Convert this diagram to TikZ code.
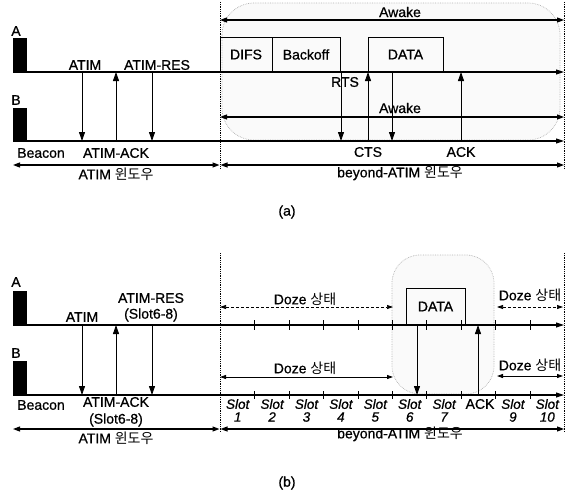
\documentclass[tikz,border=0pt]{standalone}
\usepackage{fontspec}
\setmainfont{Liberation Sans}[FakeBold=0.7]
\newfontfamily\kr{Noto Sans CJK KR}
\usetikzlibrary{arrows.meta}
\begin{document}
\begin{tikzpicture}[x=1pt,y=-1pt,
  font=\fontsize{14}{15}\selectfont,
  txt/.style={inner sep=0pt},
  tl/.style={line width=1.1pt,-{Triangle[length=8pt,width=5pt]}},
  msg/.style={line width=0.9pt,-{Triangle[length=9pt,width=6pt]}},
  spanarr/.style={line width=1.1pt,{Triangle[length=7pt,width=5pt]}-{Triangle[length=7pt,width=5pt]}},
  dozeA/.style={line width=0.7pt,densely dashed,{Triangle[length=6pt,width=4pt]}-{Triangle[length=6pt,width=4pt]}},
  dozeB/.style={line width=0.9pt,{Triangle[length=6pt,width=4pt]}-{Triangle[length=6pt,width=4pt]}},
  sep/.style={line width=0.8pt,densely dotted},
  blob/.style={draw=gray!60,line width=0.7pt,densely dotted,fill=gray!4},
  bar/.style={fill=black,minimum width=14pt,minimum height=34pt,inner sep=0pt},
  frame/.style={draw,line width=0.9pt,inner sep=0pt,minimum height=35pt},
  slot/.style={inner sep=0pt,font=\fontsize{13.5}{15}\selectfont\itshape},
  tick/.style={line width=0.9pt}]
\useasboundingbox (0,0) rectangle (575,495);

% ================= (a) =================
\draw[blob,rounded corners=32pt] (222,3) rectangle (560,140);
\node[bar] (barA1) at (20,55) {};
\node[bar] (barB1) at (20,124.5) {};
\node[txt] (la1) at (16,31) {A};
\node[txt] (lb1) at (16,100) {B};
\coordinate (A1s) at (13,72);  \coordinate (A1e) at (564,72);
\coordinate (B1s) at (13,141); \coordinate (B1e) at (564,141);
\coordinate (s1t) at (220,2); \coordinate (s1b) at (220,168);
\coordinate (r1t) at (564,2); \coordinate (r1b) at (564,168);
\draw[sep] (s1t) -- (s1b);
\draw[sep] (r1t) -- (r1b);

\node[frame,minimum width=52pt] (difs) at (246,54.5) {DIFS};
\node[frame,minimum width=68pt] (backoff) at (306,54.5) {Backoff};
\node[frame,minimum width=75pt] (data1) at (405.5,54.5) {DATA};

\draw[tl] (A1s) -- (A1e);
\draw[tl] (B1s) -- (B1e);

\coordinate (aw1l) at (220,20); \coordinate (aw1r) at (564,20);
\draw[spanarr] (aw1l) -- (aw1r);
\node[txt] (awake1) at (400,12) {Awake};
\coordinate (aw2l) at (220,117); \coordinate (aw2r) at (564,117);
\draw[spanarr] (aw2l) -- (aw2r);
\node[txt] (awake2) at (400,108) {Awake};

\coordinate (atA1) at (82,72);  \coordinate (atB1) at (82,141);
\coordinate (ackA1) at (116,72); \coordinate (ackB1) at (116,141);
\coordinate (resA1) at (152,72); \coordinate (resB1) at (152,141);
\draw[msg] (atA1) -- (atB1);
\draw[msg] (ackB1) -- (ackA1);
\draw[msg] (resA1) -- (resB1);
\node[txt] (atim1) at (85,65) {ATIM};
\node[txt] (atimres1) at (157,65) {ATIM-RES};
\node[txt] (beacon1) at (41,153) {Beacon};
\node[txt] (atimack1) at (116,153) {ATIM-ACK};

\coordinate (rtsA) at (341,72); \coordinate (rtsB) at (341,141);
\coordinate (ctsA) at (368,72); \coordinate (ctsB) at (368,141);
\coordinate (datA) at (392,72); \coordinate (datB) at (392,141);
\coordinate (ackA) at (461,72); \coordinate (ackB) at (461,141);
\draw[msg] (rtsA) -- (rtsB);
\draw[msg] (ctsB) -- (ctsA);
\draw[msg] (datA) -- (datB);
\draw[msg] (ackB) -- (ackA);
\node[txt] (rts) at (345,82) {RTS};
\node[txt] (cts) at (368,152) {CTS};
\node[txt] (ack1) at (461,152) {ACK};

\coordinate (w1a) at (13,165); \coordinate (w1b) at (219.5,165);
\coordinate (w1c) at (220.5,165); \coordinate (w1d) at (564,165);
\draw[spanarr] (w1a) -- (w1b);
\draw[spanarr] (w1c) -- (w1d);
\node[txt] (aw1) at (116,174) {ATIM {\kr 윈도우}};
\node[txt] (bw1) at (400,173) {beyond-ATIM {\kr 윈도우}};
\node[txt] (capa) at (287,212) {(a)};

% ================= (b) =================
\draw[blob,rounded corners=28pt] (392,255) rectangle (494,394);
\node[bar] (barA2) at (20,307.5) {};
\node[bar] (barB2) at (20,378) {};
\node[txt] (la2) at (16,282) {A};
\node[txt] (lb2) at (16,353) {B};
\coordinate (A2s) at (13,325);  \coordinate (A2e) at (564,325);
\coordinate (B2s) at (13,395); \coordinate (B2e) at (564,395);
\coordinate (s2t) at (220,253); \coordinate (s2b) at (220,432);
\coordinate (r2t) at (564,253); \coordinate (r2b) at (564,432);
\draw[sep] (s2t) -- (s2b);
\draw[sep] (r2t) -- (r2b);

\node[frame,minimum width=59pt,minimum height=37pt] (data2) at (435.5,306.5) {DATA};
\draw[tl] (A2s) -- (A2e);
\draw[tl] (B2s) -- (B2e);

\foreach \k in {1,...,9}{
  \pgfmathsetmacro{\xx}{220.5+34.4*\k}
  \draw[tick] (\xx,320) -- (\xx,330);
  \draw[tick] (\xx,391) -- (\xx,399);
}
\foreach \k/\n in {1/1,2/2,3/3,4/4,5/5,6/6,7/7,9/9,10/10}{
  \pgfmathsetmacro{\xx}{220.5+34.4*\k-17.2}
  \node[slot] (slot\k) at (\xx,404) {Slot};
  \node[slot] (num\k) at (\xx,417) {\n};
}
\node[txt] (ack2) at (480,404) {ACK};

\coordinate (dA1) at (220,307); \coordinate (dA2) at (393,307);
\coordinate (dA3) at (497,307); \coordinate (dA4) at (563,307);
\coordinate (dB1) at (220,377); \coordinate (dB2) at (393,377);
\coordinate (dB3) at (497,376); \coordinate (dB4) at (563,376);
\draw[dozeA] (dA1) -- (dA2);
\draw[dozeA] (dA3) -- (dA4);
\draw[dozeB] (dB1) -- (dB2);
\draw[dozeB] (dB3) -- (dB4);
\node[txt] (doze1) at (305,299) {Doze {\kr 상태}};
\node[txt] (doze2) at (530,295) {Doze {\kr 상태}};
\node[txt] (doze3) at (305,368) {Doze {\kr 상태}};
\node[txt] (doze4) at (530,365) {Doze {\kr 상태}};

\coordinate (atA2) at (82,325);  \coordinate (atB2) at (82,395);
\coordinate (ackA2) at (116,325); \coordinate (ackB2) at (116,395);
\coordinate (resA2) at (152,325); \coordinate (resB2) at (152,395);
\draw[msg] (atA2) -- (atB2);
\draw[msg] (ackB2) -- (ackA2);
\draw[msg] (resA2) -- (resB2);
\node[txt] (atim2) at (82,317) {ATIM};
\node[txt] (atimres2) at (151,298) {ATIM-RES};
\node[txt] (slres) at (151,315) {(Slot6-8)};
\node[txt] (beacon2) at (41,405) {Beacon};
\node[txt] (atimack2) at (116,402) {ATIM-ACK};
\node[txt] (slack) at (116,420) {(Slot6-8)};

\coordinate (d2A) at (417,325); \coordinate (d2B) at (417,395);
\coordinate (k2A) at (478,325); \coordinate (k2B) at (478,395);
\draw[msg] (d2A) -- (d2B);
\draw[msg] (k2B) -- (k2A);

\coordinate (w2a) at (13,429); \coordinate (w2b) at (219.5,429);
\coordinate (w2c) at (220.5,429); \coordinate (w2d) at (564,429);
\draw[spanarr] (w2a) -- (w2b);
\draw[spanarr] (w2c) -- (w2d);
\node[txt] (aw2) at (116,438) {ATIM {\kr 윈도우}};
\node[txt] (bw2) at (400,434) {beyond-ATIM {\kr 윈도우}};
\node[txt] (capb) at (287,483) {(b)};
\end{tikzpicture}
\end{document}
